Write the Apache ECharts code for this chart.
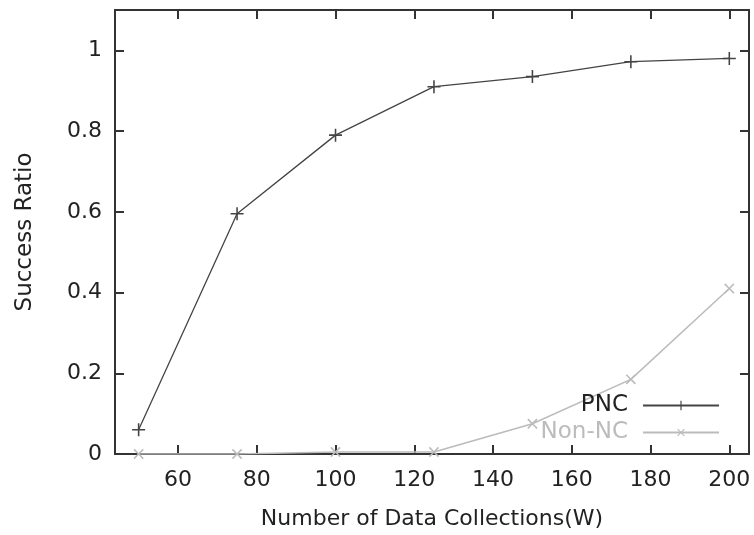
<!DOCTYPE html>
<html lang="en">
<head>
    <meta charset="UTF-8">
    <title>Success Ratio</title>
    <script src="https://cdn.jsdelivr.net/npm/echarts@6.0.0/dist/echarts.min.js"></script>
    <style>
        html, body { margin: 0; padding: 0; background: #fff; }
        #main { width: 754px; height: 535px; }
    </style>
</head>
<body>
    <div id="main"></div>
    <script type="text/javascript">
        // data
        const collections = [50, 75, 100, 125, 150, 175, 200];
        const pnc = [0.06, 0.595, 0.79, 0.91, 0.935, 0.972, 0.98];
        const nonNc = [0, 0, 0.005, 0.005, 0.075, 0.185, 0.41];
        const xTicks = [60, 80, 100, 120, 140, 160, 180, 200];
        const yTicks = [0, 0.2, 0.4, 0.6, 0.8, 1];

        const plusPath = 'path://M4.4,0H5.6V4.4H10V5.6H5.6V10H4.4V5.6H0V4.4H4.4Z';
        const font = 'DejaVu Sans, sans-serif';
        const frame = { show: true, onZero: false, lineStyle: { color: '#333', width: 2 } };

        var chart = echarts.init(document.getElementById('main'));
        var option = {
            animation: false,
            grid: { left: 115, top: 10, right: 5, bottom: 79 },
            legend: {
                right: 29,
                bottom: 86,
                orient: 'vertical',
                align: 'right',
                itemWidth: 76,
                itemHeight: 12,
                itemGap: 4,
                textStyle: { fontFamily: font, fontSize: 23, padding: [0, 10, 0, 0] },
                data: [
                    { name: 'PNC', textStyle: { color: '#222' } },
                    { name: 'Non-NC', textStyle: { color: '#bbb' } }
                ]
            },
            xAxis: [{
                type: 'value', min: 44, max: 205, position: 'bottom',
                name: 'Number of Data Collections(W)',
                nameLocation: 'middle', nameGap: 54,
                nameTextStyle: { fontFamily: font, fontSize: 22, color: '#222' },
                axisLine: frame,
                axisTick: { inside: true, length: 9, customValues: xTicks, lineStyle: { color: '#333', width: 2 } },
                axisLabel: { customValues: xTicks, fontFamily: font, fontSize: 22, color: '#222', margin: 15 },
                splitLine: { show: false }
            }, {
                type: 'value', min: 44, max: 205, position: 'top',
                axisLine: frame,
                axisTick: { inside: true, length: 9, customValues: xTicks, lineStyle: { color: '#333', width: 2 } },
                axisLabel: { show: false },
                splitLine: { show: false }
            }],
            yAxis: [{
                type: 'value', min: 0, max: 1.1, position: 'left',
                name: 'Success Ratio',
                nameLocation: 'middle', nameGap: 78,
                nameTextStyle: { fontFamily: font, fontSize: 23, color: '#222' },
                axisLine: frame,
                axisTick: { inside: true, length: 9, customValues: yTicks, lineStyle: { color: '#333', width: 2 } },
                axisLabel: { customValues: yTicks, fontFamily: font, fontSize: 22, color: '#222', margin: 13 },
                splitLine: { show: false }
            }, {
                type: 'value', min: 0, max: 1.1, position: 'right',
                axisLine: frame,
                axisTick: { inside: true, length: 9, customValues: yTicks, lineStyle: { color: '#333', width: 2 } },
                axisLabel: { show: false },
                splitLine: { show: false }
            }],
            series: [{
                name: 'PNC',
                type: 'line',
                data: collections.map((x, i) => [x, pnc[i]]),
                symbol: plusPath,
                symbolSize: 13,
                color: '#444',
                lineStyle: { color: '#444', width: 1.3 },
                itemStyle: { color: '#444' }
            }, {
                name: 'Non-NC',
                type: 'line',
                data: collections.map((x, i) => [x, nonNc[i]]),
                symbol: plusPath,
                symbolRotate: 45,
                symbolSize: 13,
                color: '#bbb',
                lineStyle: { color: '#bbb', width: 1.5 },
                itemStyle: { color: '#bbb' }
            }]
        };
        chart.setOption(option);
    </script>
</body>
</html>
